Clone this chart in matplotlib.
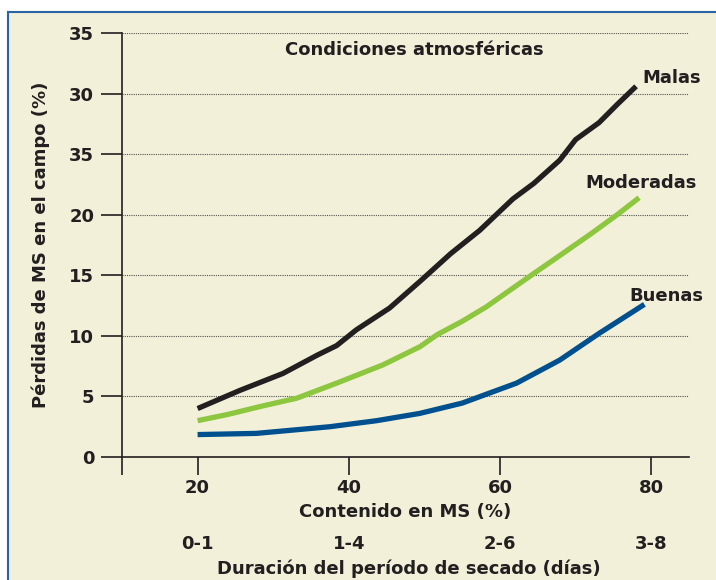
import matplotlib.pyplot as plt
from matplotlib.patches import Rectangle
from matplotlib.lines import Line2D

# contenido en MS (%) vs perdidas (%)
x_malas = [20, 25.6, 31.3, 35.8, 38.4, 41.0, 45.4, 49.6, 53.5, 57.3, 61.7, 64.5, 67.9, 70.0, 73.1, 75.5, 78.0]
y_malas = [4.0, 5.5, 6.9, 8.4, 9.2, 10.5, 12.3, 14.6, 16.8, 18.7, 21.3, 22.6, 24.5, 26.2, 27.6, 29.1, 30.6]

x_mod = [20, 23.9, 28.5, 33.1, 38.4, 44.5, 49.4, 51.7, 55.0, 58.2, 63.9, 68.3, 72.2, 75.5, 78.4]
y_mod = [3.0, 3.5, 4.2, 4.85, 6.1, 7.6, 9.1, 10.1, 11.2, 12.4, 14.9, 16.8, 18.5, 20.0, 21.4]

x_buenas = [20, 27.8, 37.5, 43.7, 49.4, 55.0, 62.2, 67.9, 73.1, 79.1]
y_buenas = [1.85, 1.95, 2.5, 3.0, 3.6, 4.45, 6.1, 8.0, 10.2, 12.6]

yticks = [0, 5, 10, 15, 20, 25, 30, 35]
ylabels = ["0", "5", "10", "15", "20", "35", "30", "35"]
xticks = [20, 40, 60, 80]
xlabels = ["20", "40", "60", "80"]
dias = ["0-1", "1-4", "2-6", "3-8"]

bg = "#f3f0d9"
txt = "#231f20"
fs = 13
plt.rcParams['font.family'] = ['DejaVu Sans']
plt.rcParams['font.weight'] = 'bold'
plt.rcParams['axes.labelweight'] = 'bold'

fig = plt.figure(figsize=(7.16, 5.8), dpi=100)
fig.patch.set_facecolor("white")
x0 = 8 / 716
y1 = 1 - 12 / 580
fig.patches.append(Rectangle((x0, -0.1), 0.5, y1 + 0.1, transform=fig.transFigure,
                             facecolor=bg, edgecolor="none", zorder=-10))
fig.patches.append(Rectangle((0.5, -0.1), 0.6, y1 + 0.1, transform=fig.transFigure,
                             facecolor=bg, edgecolor="none", zorder=-10))
fig.lines.append(Line2D([x0, x0], [-0.1, y1], transform=fig.transFigure,
                        color="#2a64a4", lw=1.5, zorder=-9))
fig.lines.append(Line2D([x0, 1.1], [y1, y1], transform=fig.transFigure,
                        color="#2a64a4", lw=1.5, zorder=-9))

ax = fig.add_axes([122 / 716, 123 / 580, 567 / 716, 424 / 580])
ax.set_facecolor("none")

ax.plot(x_malas, y_malas, color=txt, lw=3.8, solid_capstyle="butt")
ax.plot(x_mod, y_mod, color="#8dc63f", lw=3.8, solid_capstyle="butt")
ax.plot(x_buenas, y_buenas, color="#00508f", lw=3.8, solid_capstyle="butt")

ax.set_xlim(10, 85)
ax.set_ylim(0, 35)

for v in yticks[1:]:
    ax.axhline(v, color="#555555", lw=0.8, ls=(0, (1, 1)), zorder=0)

ax.set_yticks(yticks)
ax.set_yticklabels(ylabels, fontweight="bold")
ax.set_xticks([10] + xticks)
ax.set_xticklabels([""] + xlabels, fontweight="bold")
ax.tick_params(axis="y", length=15, width=1.2, color=txt, labelsize=fs, pad=5, labelcolor=txt)
ax.tick_params(axis="x", length=13, width=1.2, color=txt, labelsize=fs, pad=3, labelcolor=txt)
for s in ["top", "right"]:
    ax.spines[s].set_visible(False)
for s in ["left", "bottom"]:
    ax.spines[s].set_color(txt)
    ax.spines[s].set_linewidth(1.2)

ax.set_ylabel("Pérdidas de MS en el campo (%)", fontsize=fs, color=txt, labelpad=14)
ax.set_xlabel("Contenido en MS (%)", fontsize=fs, color=txt, labelpad=4)

tr = ax.get_xaxis_transform()
for xv, d in zip(xticks, dias):
    ax.text(xv, -0.205, d, transform=tr, ha="center", va="center", fontsize=fs, color=txt)
ax.text(48, -0.263, "Duración del período de secado (días)", transform=tr,
        ha="center", va="center", fontsize=fs, color=txt)

ax.text(48.7, 33.6, "Condiciones atmosféricas", ha="center", va="center", fontsize=fs, color=txt)
ax.text(78.8, 31.3, "Malas", ha="left", va="center", fontsize=fs, color=txt)
ax.text(71.3, 22.6, "Moderadas", ha="left", va="center", fontsize=fs, color=txt)
ax.text(77.1, 13.3, "Buenas", ha="left", va="center", fontsize=fs, color=txt)

fig.savefig("out.png", dpi=100, facecolor=fig.get_facecolor())
